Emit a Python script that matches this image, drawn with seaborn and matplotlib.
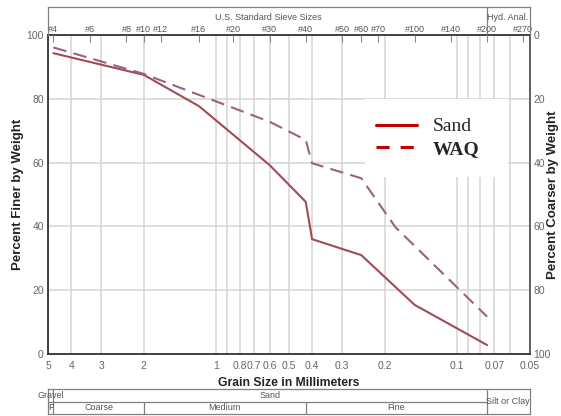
import numpy as np
import pandas as pd
import matplotlib
matplotlib.use("Agg")
import matplotlib.pyplot as plt
import seaborn as sns
from matplotlib.lines import Line2D
from matplotlib.patches import Rectangle
from matplotlib.ticker import FixedLocator, FixedFormatter, NullLocator, NullFormatter

sns.set_theme(style="white")
plt.rcParams['font.family'] = ['Liberation Sans', 'DejaVu Sans']

# values (grain size in mm, percent finer)
sand_mm = [4.75, 2.0, 1.18, 0.6, 0.425, 0.40, 0.25, 0.15, 0.075]
sand_finer = [94.3, 87.5, 77.7, 59.2, 47.7, 36.0, 31.0, 15.4, 2.8]
waq_mm = [4.75, 2.0, 0.6, 0.425, 0.40, 0.25, 0.18, 0.075]
waq_finer = [96.1, 87.8, 72.8, 67.1, 59.8, 55.1, 39.7, 11.7]

x_ticks = [5, 4, 3, 2, 1, 0.8, 0.7, 0.6, 0.5, 0.4, 0.3, 0.2, 0.1, 0.07, 0.05]
x_labels = ['5', '4', '3', '2', '1', '0.8', '0.7', '0.6', '0.5', '0.4', '0.3', '0.2', '0.1', '0.07', '0.05']
x_minor = [0.9, 0.09, 0.08, 0.06]
y_ticks = [0, 20, 40, 60, 80, 100]

sieve_names = ['#4', '#6', '#8', '#10', '#12', '#16', '#20', '#30', '#40',
               '#50', '#60', '#70', '#100', '#140', '#200', '#270']
sieve_mm = [4.75, 3.35, 2.36, 2.0, 1.7, 1.18, 0.85, 0.6, 0.425,
            0.3, 0.25, 0.212, 0.15, 0.106, 0.075, 0.053]

# soil class boundaries (mm)
gravel_sand = 4.75
coarse_medium = 2.0
medium_fine = 0.425
sand_silt = 0.075

sand_df = pd.DataFrame({'mm': sand_mm, 'finer': sand_finer})
waq_df = pd.DataFrame({'mm': waq_mm, 'finer': waq_finer})

W, H = 561, 416
XL, XR = 48, 529.5
fig = plt.figure(figsize=(W / 100, H / 100), dpi=100)

def fx(px):
    return px / W

def fy(py):
    return 1 - py / H

tick_col = '#666666'
box_col = '#808080'

# main chart
ax = fig.add_axes([fx(XL), fy(354), fx(XR - XL), (354 - 35) / H])
ax.set_xscale('log')
sns.lineplot(data=sand_df, x='mm', y='finer', ax=ax, sort=False, estimator=None,
             color='#a44a54', lw=1.5, zorder=2)
sns.lineplot(data=waq_df, x='mm', y='finer', ax=ax, sort=False, estimator=None,
             color='#9d5f86', lw=1.5, ls=(0, (6.5, 3.5)), zorder=2)
ax.set_xlim(5, 0.05)
ax.set_ylim(0, 100)
ax.xaxis.set_major_locator(FixedLocator(x_ticks))
ax.xaxis.set_major_formatter(FixedFormatter(x_labels))
ax.xaxis.set_minor_locator(FixedLocator(x_minor))
ax.xaxis.set_minor_formatter(NullFormatter())
ax.set_yticks(y_ticks)
ax.grid(True, which='both', axis='x', color='#d4d4d4', lw=1.1)
ax.grid(True, which='major', axis='y', color='#d4d4d4', lw=1.1)
ax.tick_params(axis='both', which='both', length=0, labelsize=7.5, colors=tick_col)
ax.tick_params(axis='x', pad=5)
ax.tick_params(axis='y', pad=3)
ax.set_xlabel('Grain Size in Millimeters', fontsize=8.7, fontweight='bold',
              color='#222222', labelpad=4)
ax.set_ylabel('Percent Finer by Weight', fontsize=9.5, fontweight='bold', color='#222222')
ax.yaxis.set_label_coords((24 - XL) / (XR - XL), 0.5)
for s in ['left', 'bottom', 'top']:
    ax.spines[s].set_color('#333333')
    ax.spines[s].set_linewidth(1.3)
ax.spines['right'].set_color('#555555')
ax.spines['right'].set_linewidth(1.3)

# right axis, percent coarser
ax_r = ax.twinx()
ax_r.set_ylim(100, 0)
ax_r.set_yticks(y_ticks)
ax_r.tick_params(axis='y', length=0, labelsize=7.5, colors=tick_col, pad=3)
ax_r.set_ylabel('Percent Coarser by Weight', fontsize=9.5, fontweight='bold',
                color='#222222', rotation=90)
ax_r.yaxis.set_label_coords((547 - XL) / (XR - XL), 0.5)
for s in ax_r.spines.values():
    s.set_visible(False)

# top axis, sieve numbers
ax_s = ax.twiny()
ax_s.set_xscale('log')
ax_s.set_xlim(5, 0.05)
ax_s.xaxis.set_major_locator(FixedLocator(sieve_mm))
ax_s.xaxis.set_major_formatter(FixedFormatter(sieve_names))
ax_s.xaxis.set_minor_locator(NullLocator())
ax_s.tick_params(axis='x', direction='in', length=5, width=0.8, pad=1,
                 labelsize=6.5, colors='#888888', labelcolor='#555555')
for s in ax_s.spines.values():
    s.set_visible(False)

# legend with white backing box
ax.add_patch(Rectangle(((365 - XL) / (XR - XL), (354 - 177) / 319),
                       (508 - 365) / (XR - XL), (177 - 99) / 319,
                       transform=ax.transAxes, facecolor='white',
                       edgecolor='none', zorder=2.5))
handles = [Line2D([], [], color='#c00000', lw=2.2),
           Line2D([], [], color='#c00000', lw=2.2, ls=(0, (4.3, 3.6)))]
leg = ax.legend(handles, ['Sand', 'WAQ'], loc='upper left',
                bbox_to_anchor=((366 - XL) / (XR - XL), (354 - 108) / 319),
                frameon=False, borderpad=0, handlelength=2.1, handletextpad=0.85,
                labelspacing=0.25, prop={'family': 'Liberation Serif', 'size': 14})
leg.set_zorder(3)
leg.get_texts()[1].set_fontweight('bold')

# sieve header box
ax_b = fig.add_axes([fx(XL), fy(35), fx(XR - XL), (35 - 7) / H])
ax_b.set_xscale('log')
ax_b.set_xlim(5, 0.05)
ax_b.set_ylim(0, 1)
ax_b.patch.set_visible(False)
ax_b.set_xticks([])
ax_b.set_yticks([])
ax_b.xaxis.set_minor_locator(NullLocator())
for s in ax_b.spines.values():
    s.set_color(box_col)
    s.set_linewidth(0.9)
ax_b.spines['bottom'].set_visible(False)
ax_b.vlines(sand_silt, 0, 1, color=box_col, lw=0.9)
ax_b.text((268 - XL) / (XR - XL), 0.64, 'U.S. Standard Sieve Sizes', transform=ax_b.transAxes,
          ha='center', va='center', fontsize=6.5, color='#555555')
ax_b.text((508 - XL) / (XR - XL), 0.64, 'Hyd. Anal.', transform=ax_b.transAxes,
          ha='center', va='center', fontsize=6.5, color='#555555')

# soil classification table
ax_t = fig.add_axes([fx(XL), fy(414), fx(XR - XL), (414 - 389) / H])
ax_t.set_xscale('log')
ax_t.set_xlim(5, 0.05)
ax_t.set_ylim(0, 2)
ax_t.patch.set_visible(False)
ax_t.set_xticks([])
ax_t.set_yticks([])
ax_t.xaxis.set_minor_locator(NullLocator())
for s in ax_t.spines.values():
    s.set_color(box_col)
    s.set_linewidth(0.9)
ax_t.hlines(1, 5, sand_silt, color=box_col, lw=0.9)
ax_t.vlines([gravel_sand, sand_silt], 0, 2, color=box_col, lw=0.9)
ax_t.vlines([coarse_medium, medium_fine], 0, 1, color=box_col, lw=0.9)
tkw = dict(fontsize=6.5, color='#555555', va='center')
ax_t.text((38 - XL) / (XR - XL), 0.76, 'Gravel', transform=ax_t.transAxes, ha='left',
          clip_on=False, **tkw)
ax_t.text(np.sqrt(gravel_sand * sand_silt), 1.5, 'Sand', ha='center', **tkw)
ax_t.text(np.sqrt(sand_silt * 0.05), 1.0, 'Silt or Clay', ha='center', **tkw)
ax_t.text(4.85, 0.5, 'F', ha='center', **tkw)
ax_t.text(np.sqrt(gravel_sand * coarse_medium), 0.5, 'Coarse', ha='center', **tkw)
ax_t.text(np.sqrt(coarse_medium * medium_fine), 0.5, 'Medium', ha='center', **tkw)
ax_t.text(np.sqrt(medium_fine * sand_silt), 0.5, 'Fine', ha='center', **tkw)

fig.savefig('out.png', dpi=100)
